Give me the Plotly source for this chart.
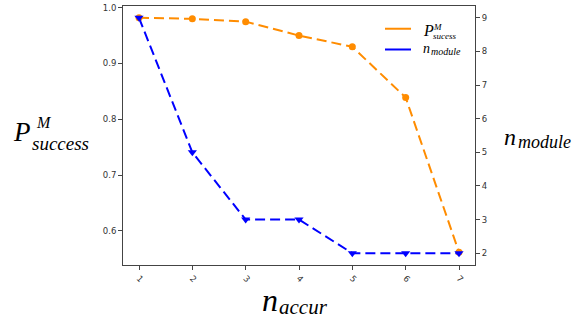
import plotly.graph_objects as go

n_accur = [1, 2, 3, 4, 5, 6, 7]
p_success = [0.982, 0.980, 0.975, 0.950, 0.930, 0.839, 0.562]
n_module = [9, 5, 3, 3, 2, 2, 2]
y_ticks = [0.6, 0.7, 0.8, 0.9, 1.0]
y2_ticks = [2, 3, 4, 5, 6, 7, 8, 9]

W, H = 573, 321
L, R, T, B = 123, 475, 3, 265

def px(x):
    return (x - L) / (R - L)

def py(y):
    return (B - y) / (B - T)

ORANGE = "#ff8c00"
BLUE = "#0000ff"
SERIF = "Liberation Serif"
TICKFONT = dict(family="DejaVu Sans", size=8.5, color="#333")

fig = go.Figure()
fig.add_trace(go.Scatter(
    x=n_accur, y=p_success, mode="lines+markers", yaxis="y",
    line=dict(color=ORANGE, width=2, dash="10px,5px"),
    marker=dict(symbol="circle", size=7, color=ORANGE),
    showlegend=False))
fig.add_trace(go.Scatter(
    x=n_accur, y=n_module, mode="lines+markers", yaxis="y2",
    line=dict(color=BLUE, width=2, dash="10px,5px"),
    marker=dict(symbol="triangle-down", size=8, color=BLUE),
    showlegend=False))

axcommon = dict(showgrid=False, zeroline=False, showline=True, linecolor="#444",
                linewidth=1, ticks="outside", ticklen=4, tickcolor="#444",
                tickfont=TICKFONT, ticklabeloverflow="allow")

fig.update_layout(
    width=W, height=H,
    margin=dict(l=L, r=W - R, t=T, b=H - B),
    paper_bgcolor="white", plot_bgcolor="white",
    xaxis=dict(range=[0.7, 7.3], tickvals=n_accur, tickangle=45, mirror=True, **axcommon),
    yaxis=dict(range=[0.539, 1.003], tickvals=y_ticks, tickformat=".1f", **axcommon),
    yaxis2=dict(range=[1.65, 9.35], tickvals=y2_ticks, overlaying="y", side="right", **axcommon),
)

anns = []
def txt(t, x, y, size, xanchor="center", yanchor="middle"):
    anns.append(dict(text=t, x=px(x), y=py(y), xref="paper", yref="paper",
                     xanchor=xanchor, yanchor=yanchor, showarrow=False,
                     font=dict(family=SERIF, size=size, color="black")))

# left y title
txt("<i>P</i>", 11, 130, 27, xanchor="left")
txt("<i>M</i>", 34, 121, 16, xanchor="left")
txt("<i>success</i>", 30, 142, 19, xanchor="left")
# x title
txt("<i>n</i>", 260, 300, 32, xanchor="left")
txt("<i>accur</i>", 277, 307, 21, xanchor="left")
# right y title
txt("<i>n</i>", 502, 136, 24, xanchor="left")
txt("<i>module</i>", 516, 141, 18, xanchor="left")
# legend
txt("<i>P</i>", 421, 28, 16, xanchor="left")
txt("<i>M</i>", 431, 24, 9, xanchor="left")
txt("<i>sucess</i>", 431, 33, 9, xanchor="left")
txt("<i>n</i>", 421, 46, 14, xanchor="left")
txt("<i>module</i>", 429, 49.5, 10, xanchor="left")

fig.update_layout(annotations=anns)
fig.add_shape(type="line", xref="paper", yref="paper", x0=px(385), x1=px(411), y0=py(26), y1=py(26),
              line=dict(color=ORANGE, width=2))
fig.add_shape(type="line", xref="paper", yref="paper", x0=px(385), x1=px(411), y0=py(47), y1=py(47),
              line=dict(color=BLUE, width=2))

fig.write_html("out.html")
